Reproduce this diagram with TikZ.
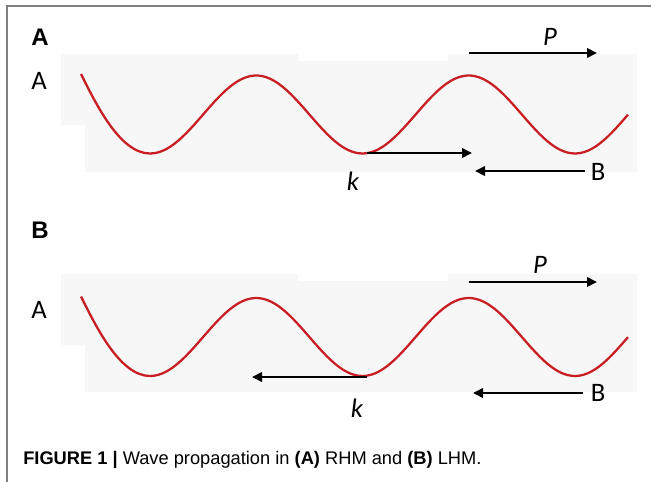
\documentclass[tikz,border=0pt]{standalone}
\usepackage{fontspec}
\setmainfont{Liberation Sans}
\newfontfamily\calib{Carlito}
\usetikzlibrary{arrows.meta}
\definecolor{wavered}{RGB}{200,30,35}
\definecolor{bgpanel}{RGB}{247,247,247}
\definecolor{framegray}{RGB}{128,128,128}
\begin{document}
\begin{tikzpicture}[x=0.75pt,y=-0.75pt,
  panel/.style={font=\fontsize{18}{20}\selectfont\bfseries, inner sep=0pt},
  lab/.style={font=\calib\fontsize{20}{22}\selectfont, inner sep=0pt},
  ilab/.style={font=\calib\itshape\fontsize{20}{22}\selectfont, inner sep=0pt},
  vec/.style={line width=2pt, -{Triangle[length=7.5pt,width=7pt]}},
  wave/.style={wavered, line width=1.7pt},
  bgshape/.style={fill=bgpanel, draw=none},
  frameline/.style={framegray, line width=1.1pt}]
\useasboundingbox (0,0) rectangle (651,482);
% frame
\draw[frameline] (7,482) -- (7,6) -- (651,6);

% ---------- panel A ----------
\fill[bgshape] (61,54) -- (298,54) -- (298,61) -- (448,61) -- (448,54) -- (637,54)
  -- (637,172) -- (85,172) -- (85,125) -- (61,125) -- cycle;
\node[panel] (tA) at (40,37) {A};
\node[lab] (aA) at (39,81) {A};
\draw[wave] (81,74) .. controls (96,104) and (120,153.5) .. (150,153.5)
  -- plot[domain=150:628,samples=120] (\x,{114.5+39*cos(1.6941176*(\x-150))});
\node[ilab] (pA) at (550,37) {P};
\coordinate (pA1) at (469,53);
\coordinate (pA2) at (597,53);
\draw[vec] (pA1) -- (pA2);
\node[ilab] (kA) at (353,181) {k};
\coordinate (kA1) at (367,153);
\coordinate (kA2) at (472,153);
\draw[vec] (kA1) -- (kA2);
\node[lab] (bA) at (598,172) {B};
\coordinate (bA1) at (585,171);
\coordinate (bA2) at (475,171);
\draw[vec] (bA1) -- (bA2);

% ---------- panel B ----------
\fill[bgshape] (61,274) -- (298,274) -- (298,281) -- (448,281) -- (448,274) -- (637,274)
  -- (637,392) -- (85,392) -- (85,345) -- (61,345) -- cycle;
\node[panel] (tB) at (40,230) {B};
\node[lab] (aB) at (39,310) {A};
\begin{scope}[shift={(0,222.5)}]
\draw[wave] (81,74) .. controls (96,104) and (120,153.5) .. (150,153.5)
  -- plot[domain=150:628,samples=120] (\x,{114.5+39*cos(1.6941176*(\x-150))});
\end{scope}
\node[ilab] (pB) at (540,265) {P};
\coordinate (pB1) at (469,282);
\coordinate (pB2) at (597,282);
\draw[vec] (pB1) -- (pB2);
\node[ilab] (kB) at (357,408) {k};
\coordinate (kB1) at (367,377);
\coordinate (kB2) at (252,377);
\draw[vec] (kB1) -- (kB2);
\node[lab] (bB) at (598,393) {B};
\coordinate (bB1) at (583,393);
\coordinate (bB2) at (473,393);
\draw[vec] (bB1) -- (bB2);

% caption
\node[anchor=west, inner sep=0pt, font=\fontsize{13.7}{15}\selectfont] (cap) at (23,460)
  {\textbf{FIGURE 1 |} Wave propagation in \textbf{(A)} RHM and \textbf{(B)} LHM.};
\end{tikzpicture}
\end{document}
